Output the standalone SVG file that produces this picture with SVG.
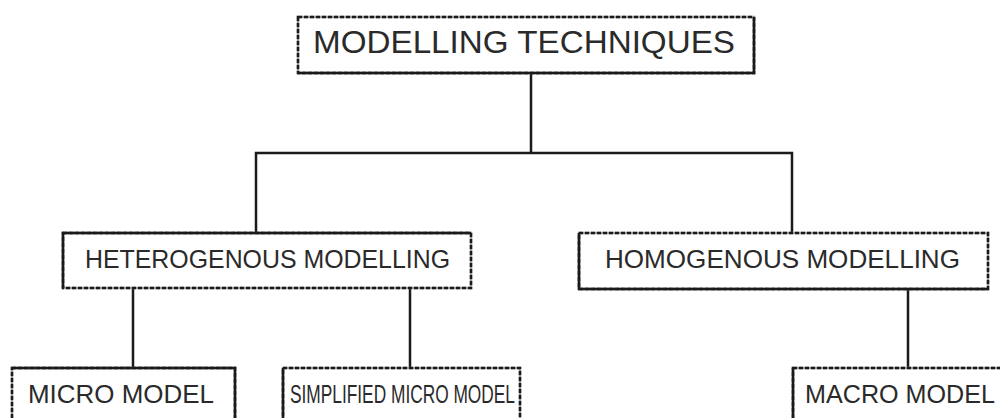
<svg xmlns="http://www.w3.org/2000/svg" width="1000" height="418" viewBox="0 0 1000 418">
  <style>
    .box { fill: #ffffff; stroke: #9a9a9a; stroke-width: 2.5; }
    .dash { fill: none; stroke: #1a1a1a; stroke-width: 2.5; stroke-dasharray: 4 2; }
    .solid { fill: none; stroke: #1a1a1a; stroke-width: 2.5; }
    .edge { fill: none; stroke: #1a1a1a; stroke-width: 2.5; }
    .lbl { font-family: "Liberation Sans", Arial, sans-serif; fill: #2a2a2a; text-anchor: start; }
    .big { font-size: 31px; }
    .mid { font-size: 25px; }
  </style>
  <rect width="1000" height="418" fill="#ffffff"/>

  <!-- connectors -->
  <g id="connectors">
    <path class="edge" d="M531,73 V153"/>
    <path class="edge" d="M256,233 V153 H792 V233"/>
    <path class="edge" d="M133,288 V368"/>
    <path class="edge" d="M410,288 V368"/>
    <path class="edge" d="M908,289 V368"/>
  </g>

  <!-- root -->
  <g id="modelling-techniques">
    <rect class="box" x="298" y="17" width="456" height="56"/>
    <rect class="dash" x="298" y="17" width="456" height="56"/>
    <path class="solid" d="M754,17 V73 H298"/>
    <text class="lbl big" x="313" y="53" textLength="422" lengthAdjust="spacingAndGlyphs">MODELLING TECHNIQUES</text>
  </g>

  <g id="heterogenous">
    <rect class="box" x="63" y="233" width="408" height="55"/>
    <rect class="dash" x="63" y="233" width="408" height="55"/>
    <path class="solid" d="M63,288 V233 H471"/>
    <text class="lbl mid" x="85" y="268" textLength="365" lengthAdjust="spacingAndGlyphs">HETEROGENOUS MODELLING</text>
  </g>

  <g id="homogenous">
    <rect class="box" x="579" y="233" width="409" height="56"/>
    <rect class="dash" x="579" y="233" width="409" height="56"/>
    <path class="solid" d="M579,233 V289 H988"/>
    <text class="lbl mid" x="605" y="268" textLength="355" lengthAdjust="spacingAndGlyphs">HOMOGENOUS MODELLING</text>
  </g>

  <g id="micro-model">
    <rect class="box" x="12" y="368" width="223" height="60"/>
    <rect class="dash" x="12" y="368" width="223" height="60"/>
    <path class="solid" d="M12,368 H235 V428"/>
    <text class="lbl mid" x="28" y="403" textLength="186" lengthAdjust="spacingAndGlyphs">MICRO MODEL</text>
  </g>

  <g id="simplified-micro-model">
    <rect class="box" x="283" y="368" width="237" height="60"/>
    <rect class="dash" x="283" y="368" width="237" height="60"/>
    <path class="solid" d="M283,428 V368"/>
    <text class="lbl mid" x="290" y="403" textLength="225" lengthAdjust="spacingAndGlyphs">SIMPLIFIED MICRO MODEL</text>
  </g>

  <g id="macro-model">
    <rect class="box" x="793" y="368" width="220" height="60"/>
    <rect class="dash" x="793" y="368" width="220" height="60"/>
    <path class="solid" d="M793,428 V368"/>
    <text class="lbl mid" x="805" y="403" textLength="190" lengthAdjust="spacingAndGlyphs">MACRO MODEL</text>
  </g>
</svg>
